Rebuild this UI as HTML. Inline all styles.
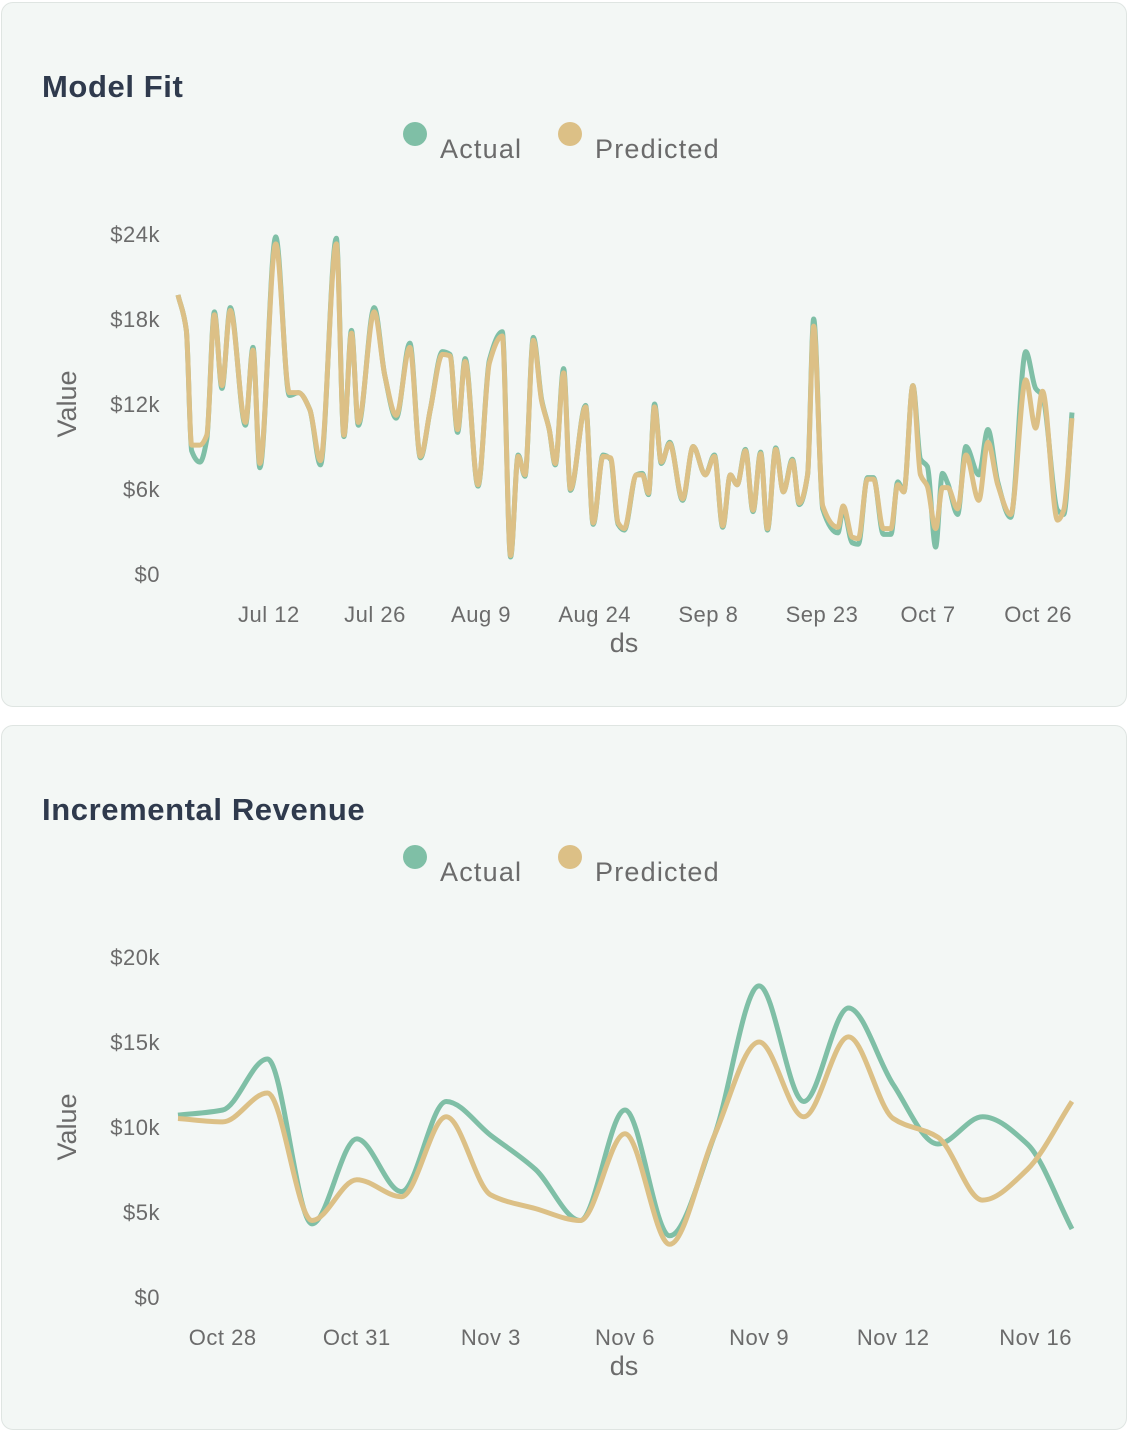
<!DOCTYPE html>
<html><head><meta charset="utf-8"><style>
body{margin:0;background:#fff;font-family:"Liberation Sans",sans-serif;}
.card{position:absolute;left:1px;width:1126px;background:#f3f7f5;border:1px solid #dfe5e2;border-radius:12px;box-sizing:border-box;}
svg{position:absolute;left:0;top:0}
</style></head><body>
<div class="card" style="top:2px;height:705px"></div>
<div class="card" style="top:725px;height:705px"></div>
<svg id="s" width="1129" height="1433"></svg>
<script>
// ---- Model Fit data (day offsets from Jun 30) ----
const fitDays=[0,1.1,1.8,2.9,3.8,4.8,5.8,6.9,8.9,9.9,10.8,12.9,14.7,15.9,17.4,18.8,20.9,21.9,22.9,23.8,25.9,27.3,28.8,30.6,32,33.3,34.9,35.9,36.9,37.9,39.6,41.1,42.8,43.9,44.9,45.8,46.9,48,49,49.8,50.9,51.8,53.8,54.8,56.1,57.1,58.1,58.9,60.5,61.3,62.1,62.9,63.8,64.9,66.6,68,69.6,70.8,71.9,72.9,73.8,74.9,75.9,76.9,77.8,78.9,79.9,81.1,82,83.1,83.9,85.1,87.1,87.8,89,89.8,91,91.8,93.1,94.1,95,95.8,97,98,98.9,100,100.9,101.6,102.9,104,105.7,106.9,108.2,109.9,111.9,113.2,114.1,116.1,116.9,118];
const fitActual=[19.7,17.2,8.7,7.9,9.5,18.5,13.1,18.8,10.5,16,7.5,23.8,12.6,12.8,11.6,7.7,23.7,9.7,17.2,10.5,18.8,14,11,16.3,8.2,11.6,15.7,15.5,10,15.2,6.2,15.1,17.1,1.2,8.4,6.9,16.7,12.3,10.2,7.7,14.5,5.9,11.9,3.5,8.4,8.1,3.5,3.1,7,7.1,5.6,12,7.8,9.3,5.2,9,7,8.4,3.3,7,6.3,8.8,4.4,8.6,3.1,8.9,5.8,8.1,4.9,7,18,4.6,2.9,4.6,2.2,2.1,6.8,6.8,2.8,2.8,6.5,5.8,13.3,8.1,7.6,1.9,7.1,6.4,4.2,9,7,10.2,6.5,4,15.7,13.1,12.6,4.5,4.2,11.4];
const fitPredicted=[19.7,17.2,9.1,9.1,9.8,18.3,13.3,18.6,10.7,15.8,7.8,23.3,12.8,12.8,11.6,8,23.3,9.8,17,10.7,18.5,14,11.2,16,8.3,11.6,15.5,15.4,10.2,15,6.3,14.9,16.8,1.3,8.3,7,16.5,12.2,10.2,7.8,14.2,6,11.8,3.6,8.3,8.2,3.6,3.2,7,7,5.7,11.8,7.9,9.2,5.3,9,7,8.3,3.4,7,6.3,8.7,4.5,8.5,3.2,8.8,5.8,8,5,7,17.5,4.8,3.3,4.8,2.6,2.5,6.7,6.7,3.2,3.2,6.3,5.8,13.3,7,6.2,3.2,6.1,6.1,4.6,8.4,5.2,9.3,6.3,4.2,13.7,10.3,12.9,3.8,4.5,11];
const fitTickDays=[12,26,40,55,70,85,99,118];
const fitTickLabels=["Jul 12","Jul 26","Aug 9","Aug 24","Sep 8","Sep 23","Oct 7","Oct 26"];
const fitYTicks=[0,6,12,18,24];
// ---- Incremental Revenue data (days from Oct 27) ----
const revDays=[0,1,2,3,4,5,6,7,8,9,10,11,12,13,14,15,16,17,18,19,20];
const revActual=[10.7,11,14,4.3,9.3,6.2,11.5,9.5,7.5,4.5,11,3.6,9.5,18.3,11.5,17,12.5,9,10.6,9,4];
const revPredicted=[10.5,10.3,12,4.5,6.9,5.9,10.6,6,5.2,4.5,9.6,3.1,9.5,15,10.6,15.3,10.5,9.4,5.7,7.5,11.5];
const revTickDays=[1,4,7,10,13,16,20];
const revTickLabels=["Oct 28","Oct 31","Nov 3","Nov 6","Nov 9","Nov 12","Nov 16"];
const revYTicks=[0,5,10,15,20];

const NS="http://www.w3.org/2000/svg";
const svg=document.getElementById('s');
function el(tag,attrs,text){const e=document.createElementNS(NS,tag);for(const k in attrs)e.setAttribute(k,attrs[k]);if(text!==undefined)e.textContent=text;svg.appendChild(e);return e;}
function monotone(pts){
  const n=pts.length;const dx=[],m=[],t=[];
  for(let i=0;i<n-1;i++){dx[i]=pts[i+1][0]-pts[i][0];m[i]=(pts[i+1][1]-pts[i][1])/dx[i];}
  t[0]=m[0];t[n-1]=m[n-2];
  for(let i=1;i<n-1;i++){if(m[i-1]*m[i]<=0)t[i]=0;else{const w1=2*dx[i]+dx[i-1],w2=dx[i]+2*dx[i-1];t[i]=(w1+w2)/(w1/m[i-1]+w2/m[i]);}}
  let d="M"+pts[0][0]+","+pts[0][1];
  for(let i=0;i<n-1;i++){const h=dx[i]/3;d+="C"+(pts[i][0]+h)+","+(pts[i][1]+t[i]*h)+","+(pts[i+1][0]-h)+","+(pts[i+1][1]-t[i+1]*h)+","+pts[i+1][0]+","+pts[i+1][1];}
  return d;
}
function chart(o){
  const xs=d=>o.x0+(d-o.d0)/(o.d1-o.d0)*(o.x1-o.x0);
  const ys=v=>o.y0-v/o.vmax*(o.y0-o.y1);
  let t=el('text',{x:42,y:o.top+97,'font-size':31,'font-weight':'bold',fill:'#2f3a4d','letter-spacing':'0.6'},o.title);
  
  let c=el('circle',{cx:415,cy:o.top+134,r:12,fill:'#7fbfa6'});
  
  t=el('text',{x:440,y:o.top+158,'font-size':27,fill:'#6b6b6b','letter-spacing':'1.2'},'Actual');
  
  c=el('circle',{cx:570,cy:o.top+134,r:12,fill:'#dcc086'});
  
  t=el('text',{x:595,y:o.top+158,'font-size':27,fill:'#6b6b6b','letter-spacing':'1.2'},'Predicted');
  
  o.yt.forEach(v=>{const e=el('text',{x:160,y:ys(v)+8,'font-size':22,fill:'#6b6b6b','text-anchor':'end','letter-spacing':'0.5'},v===0?'$0':'$'+v+'k');
    });
  o.td.forEach((d,i)=>{const last=i===o.td.length-1;const e=el('text',{x:xs(d),y:o.top+622,'font-size':22,fill:'#6b6b6b','text-anchor':last?'end':'middle','letter-spacing':'0.5'},o.tl[i]);
    });
  t=el('text',{x:624,y:o.top+652,'font-size':27,fill:'#6b6b6b','text-anchor':'middle'},'ds');
  
  t=el('text',{x:0,y:0,'font-size':27,fill:'#6b6b6b','text-anchor':'middle',transform:'translate(76,'+(o.top+404)+') rotate(-90)'},'Value');
  
  const pa=o.days.map((d,i)=>[xs(d),ys(o.act[i])]);
  const pp=o.days.map((d,i)=>[xs(d),ys(o.pred[i])]);
  let p=el('path',{d:monotone(pa),fill:'none',stroke:'#7fbfa6','stroke-width':5,'stroke-linejoin':'round'});
  
  p=el('path',{d:monotone(pp),fill:'none',stroke:'#dcc086','stroke-width':5,'stroke-linejoin':'round'});
  
}
chart({top:0,title:'Model Fit',x0:178,x1:1072,d0:0,d1:118,y0:574,y1:234,vmax:24,yt:fitYTicks,td:fitTickDays,tl:fitTickLabels,days:fitDays,act:fitActual,pred:fitPredicted});
chart({top:723,title:'Incremental Revenue',x0:178,x1:1072,d0:0,d1:20,y0:1297,y1:957,vmax:20,yt:revYTicks,td:revTickDays,tl:revTickLabels,days:revDays,act:revActual,pred:revPredicted});
</script>
</body></html>
